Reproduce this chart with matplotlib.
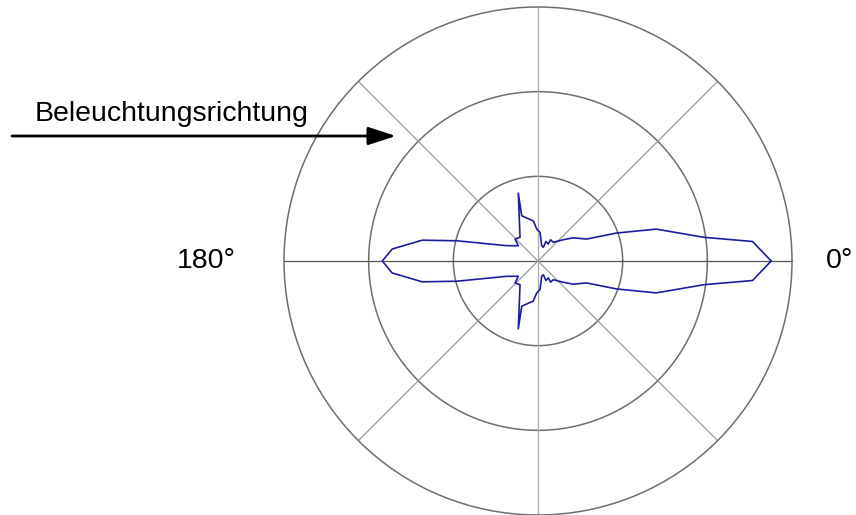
import numpy as np
import matplotlib.pyplot as plt
from matplotlib.patches import FancyArrowPatch

plt.rcParams['font.family'] = ['Liberation Sans', 'DejaVu Sans']

# obere Hälfte der Kurve (Winkel in Grad, Radius relativ zum Außenkreis)
winkel = [0, 5.2, 8.1, 15.1, 19.6, 24.3, 33.6, 41.5, 50.7, 59.2, 58.8, 67.9,
          68.8, 76.4, 86.0, 92.3, 96.7, 109.8, 106.2, 127.2, 136.3, 142.2,
          153.9, 166.0, 169.8, 175.3, 180]
radius = [0.918, 0.848, 0.661, 0.482, 0.328, 0.210, 0.165, 0.124, 0.095, 0.097,
          0.078, 0.083, 0.058, 0.062, 0.113, 0.126, 0.159, 0.189, 0.278, 0.117,
          0.125, 0.098, 0.137, 0.329, 0.463, 0.576, 0.613]

ringe = [1/3, 2/3, 1.0]
speichen = [0, 45, 90, 135, 180, 225, 270, 315]

# untere Hälfte ist gespiegelt
th = np.deg2rad(winkel + [-w for w in winkel[::-1]])
r = radius + radius[::-1]

fig = plt.figure(figsize=(8.56, 5.15), dpi=100)
ax = fig.add_axes([(538 - 254) / 856, (254 - 254) / 515, 508 / 856, 508 / 515],
                  projection='polar')

ax.plot(th, r, color='#1c1ca0', lw=1.2, zorder=3)

ax.set_ylim(0, 1)
ax.set_yticks(ringe[:-1])
ax.set_yticklabels([])
ax.set_xticks(np.deg2rad(speichen))
ax.set_xticklabels([])
ax.grid(False)

# Ringe und Speichen selbst zeichnen
t = np.linspace(0, 2 * np.pi, 400)
for rr in ringe[:-1]:
    ax.plot(t, np.full_like(t, rr), color='#6e6e6e', lw=1.1, zorder=1)
for s in speichen:
    if s in (0, 180):
        col = '#555555'
    elif s in (90, 270):
        col = '#aaaaaa'
    else:
        col = '#9a9a9a'
    ax.plot([np.deg2rad(s)] * 2, [0, 1], color=col, lw=0.9, zorder=1)
ax.spines['polar'].set_color('#6e6e6e')
ax.spines['polar'].set_linewidth(1.1)

ax.text(0, 1.133, '0°', ha='left', va='center', fontsize=20.5)
ax.text(np.pi, 1.19, '180°', ha='right', va='center', fontsize=20.5)

fig.text(35 / 856, 1 - 114 / 515, 'Beleuchtungsrichtung', ha='left', va='center',
         fontsize=20.5)
fig.add_artist(FancyArrowPatch(
    (12 / 856, 1 - 136 / 515), (396 / 856, 1 - 136 / 515),
    transform=fig.transFigure, arrowstyle='-|>,head_length=17,head_width=5.5',
    color='black', lw=2, shrinkA=0, shrinkB=0))

fig.savefig('out.png', dpi=100)
